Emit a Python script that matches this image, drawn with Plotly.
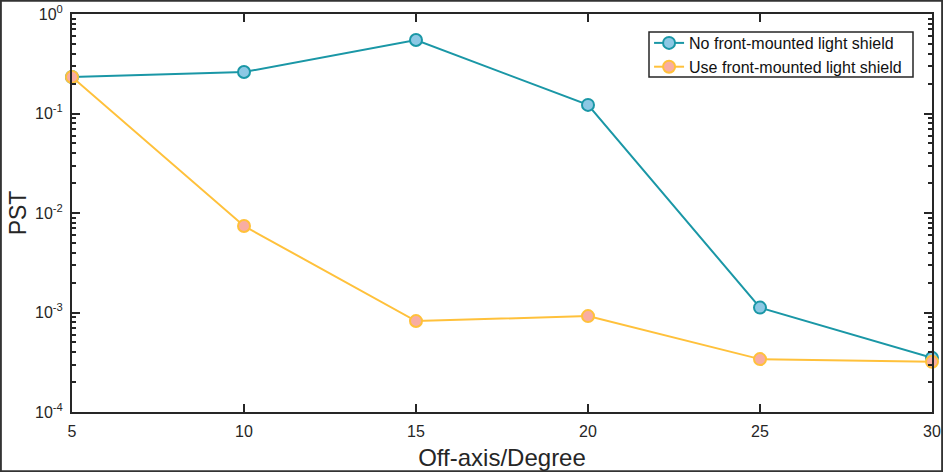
import plotly.graph_objects as go

angles = [5, 10, 15, 20, 25, 30]
no_shield = [0.233, 0.261, 0.548, 0.122, 0.00112, 0.00035]
use_shield = [0.233, 0.0074, 0.00082, 0.00092, 0.00034, 0.00032]
name_no = "No front-mounted light shield"
name_use = "Use front-mounted light shield"
y_tickvals = [1e-4, 1e-3, 1e-2, 1e-1, 1e0]
y_ticktext = ["10<sup>-4</sup>", "10<sup>-3</sup>", "10<sup>-2</sup>", "10<sup>-1</sup>", "10<sup>0</sup>"]
minor_vals = [k * 10 ** e for e in range(-4, 0) for k in range(2, 10)]

axis_color = "#262626"
fig = go.Figure()
fig.add_trace(go.Scatter(
    x=angles, y=no_shield, name=name_no, mode="lines+markers",
    line=dict(color="#1A97A6", width=2),
    marker=dict(size=12, color="#8CC8E4", line=dict(color="#1A97A6", width=2)),
    cliponaxis=False))
fig.add_trace(go.Scatter(
    x=angles, y=use_shield, name=name_use, mode="lines+markers",
    line=dict(color="#FFC13B", width=2),
    marker=dict(size=12, color="#F8ADA2", line=dict(color="#FFC13B", width=2)),
    cliponaxis=False))

PW, PH = 860, 398
fig.update_layout(
    width=943, height=472,
    margin=dict(l=72, r=11, t=14, b=60),
    paper_bgcolor="white", plot_bgcolor="white",
    font=dict(family="Liberation Sans, Arial", color=axis_color, size=15),
    showlegend=True,
    legend=dict(x=0.671, y=(412 - 26) / PH, xanchor="left", yanchor="top",
                bgcolor="rgba(0,0,0,0)", borderwidth=0,
                font=dict(size=16, color="#111111"), tracegroupgap=0,
                itemwidth=30),
    shapes=[
        dict(type="rect", xref="paper", yref="paper",
             x0=-72/PW + 0.001, x1=1 + 11/PW - 0.001,
             y0=-60/PH + 0.002, y1=1 + 14/PH - 0.002,
             line=dict(color="#333333", width=2)),
        dict(type="rect", xref="paper", yref="paper", layer="above",
             x0=(649 - 72) / PW, x1=(913 - 72) / PW,
             y0=(412 - 77) / PH, y1=(412 - 32) / PH,
             fillcolor="white", line=dict(color=axis_color, width=1.5)),
    ],
)
fig.update_xaxes(
    range=[5, 30], tickvals=angles, ticks="inside", ticklen=8, tickwidth=1.5,
    tickcolor=axis_color, showline=True, linecolor=axis_color, linewidth=2,
    mirror="ticks", showgrid=False, zeroline=False, automargin=False,
    ticklabelstandoff=4,
    tickfont=dict(size=16, color=axis_color),
    title=dict(text="Off-axis/Degree", font=dict(size=24, color=axis_color), standoff=10))
fig.update_yaxes(
    type="log", range=[-4, 0], tickmode="array", tickvals=y_tickvals, ticktext=y_ticktext,
    ticks="inside", ticklen=8, tickwidth=1.5, tickcolor=axis_color,
    minor=dict(tickmode="array", tickvals=minor_vals, ticks="inside", ticklen=4,
               tickwidth=1.5, tickcolor=axis_color, showgrid=False),
    showline=True, linecolor=axis_color, linewidth=2, mirror="ticks",
    showgrid=False, zeroline=False, automargin=False,
    ticklabelstandoff=4,
    tickfont=dict(size=16, color=axis_color),
    title=dict(text="PST", font=dict(size=23, color=axis_color), standoff=2))

fig.write_html("out.html", config={"displayModeBar": False},
               post_script="document.body.style.margin='0px';")
